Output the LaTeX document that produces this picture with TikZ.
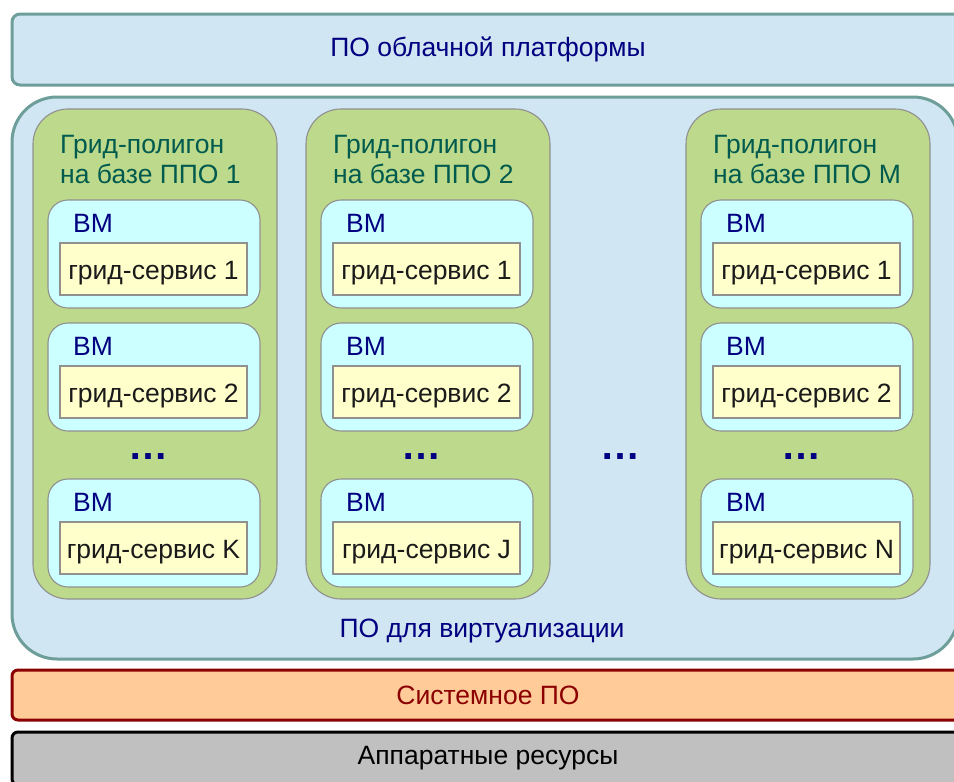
\documentclass[tikz,border=0pt]{standalone}
\usepackage{fontspec}
\setmainfont{Liberation Sans}
\definecolor{cloudfill}{HTML}{D0E6F2}
\definecolor{cloudline}{HTML}{6E9E9A}
\definecolor{grpfill}{HTML}{BDD98B}
\definecolor{boxline}{HTML}{909090}
\definecolor{vmfill}{HTML}{CCFFFF}
\definecolor{svcfill}{HTML}{FFFFCC}
\definecolor{sysfill}{HTML}{FFCC99}
\definecolor{sysline}{HTML}{8B0000}
\definecolor{hwfill}{HTML}{C0C0C0}
\definecolor{navytxt}{HTML}{000080}
\definecolor{tealtxt}{HTML}{005A4E}
\definecolor{darktxt}{HTML}{1A1A1A}
\newcommand\myfont{\fontsize{26.5}{30}\selectfont}
\tikzset{
  layerbox/.style={draw=cloudline, fill=cloudfill, line width=3pt, rounded corners=8pt, inner sep=0pt, font=\myfont, text=navytxt},
  grp/.style={draw=boxline, fill=grpfill, line width=1.1pt, rounded corners=35pt, inner sep=0pt},
  vmbox/.style={draw=boxline, fill=vmfill, line width=1.1pt, rounded corners=20pt, inner sep=0pt},
  svc/.style={draw=boxline, fill=svcfill, line width=1.1pt, inner sep=0pt, font=\myfont, text=darktxt, text height=20pt, text depth=0pt},
  grptitle/.style={inner sep=0pt, font=\myfont, text=tealtxt},
  vmlabel/.style={inner sep=0pt, font=\myfont, text=navytxt},
  dotsnode/.style={inner sep=0pt, font=\fontsize{40}{44}\selectfont\bfseries, text=navytxt},
}
\begin{document}
\begin{tikzpicture}[x=1pt,y=-1pt]
\useasboundingbox (0,0) rectangle (954,782);
\clip (0,0) rectangle (954,782);
% top layer
\node[layerbox, minimum width=952pt, minimum height=71pt] (cloud) at (488,49.5) {ПО облачной платформы};
% virtualization layer
\node[layerbox, rounded corners=45pt, minimum width=946pt, minimum height=562pt] (virt) at (485,378) {};
\node[vmlabel, anchor=base] (virtlabel) at (482,637) {ПО для виртуализации};
% system layer
\node[layerbox, draw=sysline, fill=sysfill, text=sysline, rounded corners=6pt, minimum width=952pt, minimum height=50pt] (sys) at (488,695) {Системное ПО};
% hardware layer
\node[layerbox, draw=black, fill=hwfill, text=black, rounded corners=6pt, minimum width=952pt, minimum height=53pt] (hw) at (488,758.5) {Аппаратные ресурсы};
% grid polygons
\foreach \c/\gx/\m/\last in {1/33/1/K,2/306/2/J,3/686/M/N}{
  \node[grp, minimum width=244pt, minimum height=490pt] (g\c) at (\gx+122,354) {};
  \node[grptitle, anchor=base west] (t\c) at (\gx+27,153) {\vtop{\baselineskip=30pt\hbox{Грид-полигон}\hbox{на базе ППО \m}}};
  \foreach \r/\vy/\s in {1/200/1,2/323/2,3/479/\last}{
    \node[vmbox, minimum width=212pt, minimum height=108pt] (v\c\r) at (\gx+121,\vy+54) {};
    \node[vmlabel, anchor=base west] (vl\c\r) at (\gx+40,\vy+32) {ВМ};
    \node[svc, minimum width=187pt, minimum height=52pt] (s\c\r) at (\gx+120.5,\vy+69) {грид-сервис \s};
  }
  \node[dotsnode, anchor=base] (d\c) at (\gx+115,459) {…};
}
\node[dotsnode, anchor=base] (dmid) at (620,459) {…};
\end{tikzpicture}
\end{document}
